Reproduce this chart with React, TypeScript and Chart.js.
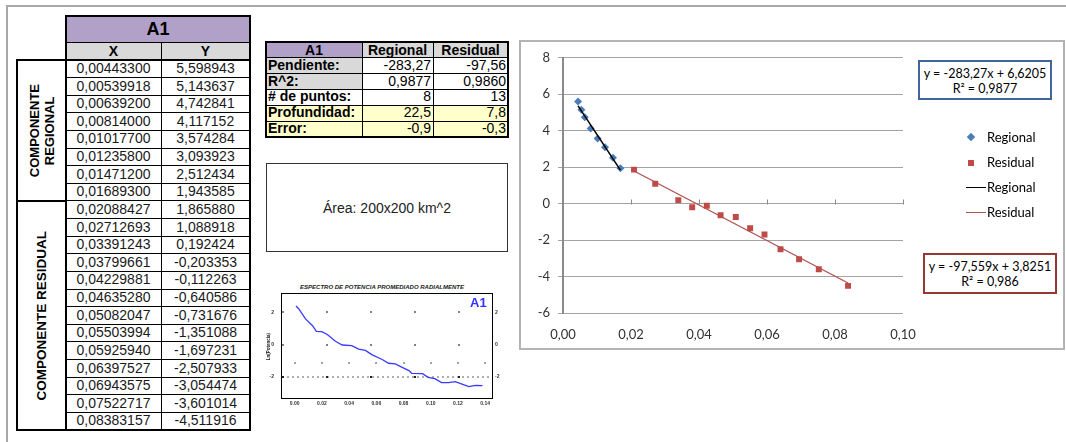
import React, { useEffect, useRef } from 'react';
import { Chart, registerables } from 'chart.js';
Chart.register(...registerables);

// ---- data ----
const regionalX = [0.004433, 0.00539918, 0.006392, 0.00814, 0.010177, 0.012358, 0.014712, 0.016893];
const regionalY = [5.598943, 5.143637, 4.742841, 4.117152, 3.574284, 3.093923, 2.512434, 1.943585];
const residualX = [0.02088427, 0.02712693, 0.03391243, 0.03799661, 0.04229881, 0.0463528, 0.05082047, 0.05503994, 0.0592594, 0.06397527, 0.06943575, 0.07522717, 0.08383157];
const residualY = [1.86588, 1.088918, 0.192424, -0.203353, -0.112263, -0.640586, -0.731676, -1.351088, -1.697231, -2.507933, -3.054474, -3.601014, -4.511916];

const regionalTrendX = [0.004433, 0.016893];
const regionalTrendY = [5.365, 1.835];
const residualTrendX = [0.020884, 0.083832];
const residualTrendY = [1.788, -4.353];

const xTicks = [0, 0.02, 0.04, 0.06, 0.08, 0.1];
const yTicks = [-6, -4, -2, 0, 2, 4, 6, 8];

const statLabels = ['Pendiente:', 'R^2:', '# de puntos:', 'Profundidad:', 'Error:'];
const regionalStats = ['-283,27', '0,9877', '8', '22,5', '-0,9'];
const residualStats = ['-97,56', '0,9860', '13', '7,8', '-0,3'];

const spectrumX = [0.001, 0.003, 0.008, 0.013, 0.016, 0.020, 0.024, 0.030, 0.035, 0.042, 0.047, 0.052, 0.057, 0.064, 0.069, 0.074, 0.079, 0.084, 0.086, 0.094, 0.098, 0.103, 0.108, 0.113, 0.118, 0.123, 0.128, 0.133, 0.138];
const spectrumY = [2.40, 2.23, 1.60, 1.19, 0.83, 0.81, 0.63, 0.21, -0.02, -0.06, -0.27, -0.35, -0.63, -0.90, -1.15, -1.19, -1.40, -1.60, -1.77, -1.79, -2.02, -2.10, -2.35, -2.35, -2.29, -2.44, -2.60, -2.52, -2.54];
const spectrumXTicks = [0, 0.02, 0.04, 0.06, 0.08, 0.1, 0.12, 0.14];
const spectrumYTicks = [-2, 0, 2];
const spectrumSparseDotRows = [2, 0];
const spectrumTickDotRow = -1.15;
const spectrumDenseDotRow = -2;

const fmtComma = (v: number, d: number) => v.toFixed(d).replace('.', ',');

const TF = '"Liberation Sans", Arial, sans-serif';
const CF = 'Lato, "Open Sans", sans-serif';

const PURPLE = '#b1a0c7';
const GRAY = '#d9d9d9';
const YELLOW = '#ffffcc';

function box(l: number, t: number, w: number, h: number, extra: any = {}): any {
  return { position: 'absolute', left: l, top: t, width: w, height: h, boxSizing: 'border-box', ...extra };
}

function Line({ x, y, w, h, c = '#000' }: any) {
  return <div style={box(x, y, w, h, { background: c })} />;
}

export default function App() {
  const mainRef = useRef<HTMLCanvasElement>(null);
  const smallRef = useRef<HTMLCanvasElement>(null);

  useEffect(() => {
    const zeroTicks = {
      id: 'zeroTicks',
      afterDraw(chart: any) {
        const { ctx, scales } = chart;
        const x = scales.x, y = scales.y;
        const y0 = Math.round(y.getPixelForValue(0)) + 0.5;
        ctx.save();
        ctx.strokeStyle = '#8a8a8a';
        ctx.lineWidth = 1;
        xTicks.forEach((v) => {
          if (v === 0) return;
          const px = Math.round(x.getPixelForValue(v)) + 0.5;
          ctx.beginPath();
          ctx.moveTo(px, y0);
          ctx.lineTo(px, y0 - 5);
          ctx.stroke();
        });
        ctx.restore();
      },
    };

    const main = new Chart(mainRef.current!, {
      type: 'scatter',
      data: {
        datasets: [
          {
            label: 'Regional',
            data: regionalX.map((x, i) => ({ x, y: regionalY[i] })),
            pointStyle: 'rectRot',
            pointRadius: 4,
            borderWidth: 0,
            backgroundColor: '#4a7ebb',
            borderColor: '#4a7ebb',
            order: 2,
          },
          {
            label: 'Residual',
            data: residualX.map((x, i) => ({ x, y: residualY[i] })),
            pointStyle: 'rect',
            pointRadius: 4.2,
            borderWidth: 0,
            backgroundColor: '#be4b48',
            borderColor: '#be4b48',
            order: 2,
          },
          {
            label: 'Regional',
            data: regionalTrendX.map((x, i) => ({ x, y: regionalTrendY[i] })),
            showLine: true,
            pointRadius: 0,
            borderColor: '#000000',
            borderWidth: 1.5,
            order: 1,
          },
          {
            label: 'Residual',
            data: residualTrendX.map((x, i) => ({ x, y: residualTrendY[i] })),
            showLine: true,
            pointRadius: 0,
            borderColor: '#b0504e',
            borderWidth: 1.3,
            order: 1,
          },
        ],
      },
      options: {
        animation: false,
        responsive: false,
        maintainAspectRatio: false,
        layout: { padding: { left: 0, right: 160, top: 15, bottom: 0 } },
        plugins: { legend: { display: false }, tooltip: { enabled: false } },
        scales: {
          x: {
            type: 'linear',
            min: 0,
            max: 0.1,
            afterBuildTicks: (s: any) => { s.ticks = xTicks.map((v) => ({ value: v })); },
            afterFit: (s: any) => { s.height = 35; },
            grid: { display: false, drawTicks: false },
            border: { display: false },
            ticks: {
              font: { family: CF, size: 13 },
              color: '#333',
              padding: 14,
              maxRotation: 0,
              autoSkip: false,
              callback: (v: any) => fmtComma(Number(v), 2),
            },
          },
          y: {
            min: -6,
            max: 8,
            afterBuildTicks: (s: any) => { s.ticks = yTicks.map((v) => ({ value: v })); },
            afterFit: (s: any) => { s.width = 42; },
            grid: { color: '#a3a3a3', lineWidth: 1, tickLength: 5, drawTicks: true },
            border: { display: true, color: '#8a8a8a', width: 2 },
            ticks: {
              font: { family: CF, size: 13 },
              color: '#333',
              padding: 8,
              callback: (v: any) => String(v),
            },
          },
        },
      },
      plugins: [zeroTicks],
    } as any);

    const frame = {
      id: 'frame',
      beforeDatasetsDraw(chart: any) {
        const { ctx, chartArea: a, scales } = chart;
        const x = scales.x, y = scales.y;
        ctx.save();
        ctx.fillStyle = '#222';
        const dot = (px: number, py: number, s: number) => ctx.fillRect(Math.round(px) - s / 2, Math.round(py) - s / 2, s, s);
        spectrumSparseDotRows.forEach((v) => {
          const py = y.getPixelForValue(v);
          for (let px = a.left + 2; px < a.right; px += 44) dot(px, py, 1.5);
        });
        const pyT = y.getPixelForValue(spectrumTickDotRow);
        spectrumXTicks.forEach((v) => dot(x.getPixelForValue(v), pyT, 1.3));
        const pyD = y.getPixelForValue(spectrumDenseDotRow);
        for (let px = a.left + 2; px < a.right; px += 5) dot(px, pyD, 1.2);
        for (let px = a.left + 2; px < a.right; px += 44) dot(px, pyD, 2);
        ctx.restore();
      },
      afterDraw(chart: any) {
        const { ctx, chartArea: a } = chart;
        ctx.save();
        ctx.strokeStyle = '#000';
        ctx.lineWidth = 1;
        ctx.strokeRect(Math.round(a.left) + 0.5, Math.round(a.top) + 0.5, Math.round(a.right - a.left), Math.round(a.bottom - a.top));
        ctx.restore();
      },
    };

    const tickFont = { family: TF, size: 5, weight: 'bold' };
    const small = new Chart(smallRef.current!, {
      type: 'scatter',
      data: {
        datasets: [
          {
            data: spectrumX.map((x, i) => ({ x, y: spectrumY[i] })),
            showLine: true,
            pointRadius: 0,
            borderColor: '#3a3aff',
            borderWidth: 1.3,
          },
        ],
      },
      options: {
        animation: false,
        responsive: false,
        maintainAspectRatio: false,
        layout: { padding: { top: 13, left: 0, right: 0, bottom: 0 } },
        plugins: { legend: { display: false }, tooltip: { enabled: false } },
        scales: {
          x: {
            type: 'linear',
            min: -0.01,
            max: 0.145,
            afterBuildTicks: (s: any) => { s.ticks = spectrumXTicks.map((v) => ({ value: v })); },
            afterFit: (s: any) => { s.height = 12; },
            grid: { display: false, drawTicks: false },
            border: { display: false },
            ticks: { font: tickFont, color: '#333', padding: 3, maxRotation: 0, autoSkip: false, callback: (v: any) => Number(v).toFixed(2) },
          },
          y: {
            position: 'left',
            min: -3.3,
            max: 3.2,
            afterBuildTicks: (s: any) => { s.ticks = spectrumYTicks.map((v) => ({ value: v })); },
            afterFit: (s: any) => { s.width = 19; },
            grid: { display: false, drawTicks: false },
            border: { display: false },
            ticks: { font: tickFont, color: '#333', padding: 7, callback: (v: any) => String(v) },
          },
          y2: {
            position: 'right',
            min: -3.3,
            max: 3.2,
            afterBuildTicks: (s: any) => { s.ticks = spectrumYTicks.map((v) => ({ value: v })); },
            afterFit: (s: any) => { s.width = 10; },
            grid: { display: false, drawTicks: false },
            border: { display: false },
            ticks: { font: tickFont, color: '#333', padding: 3, callback: (v: any) => String(v) },
          },
        },
      },
      plugins: [frame],
    } as any);

    return () => {
      main.destroy();
      small.destroy();
    };
  }, []);

  // ---- left table geometry ----
  const rowH = 17.62;
  const dataTop = 60;
  const allX = [...regionalX, ...residualX];
  const allY = [...regionalY, ...residualY];
  const nRows = allX.length;
  const tableBottom = dataTop + nRows * rowH;
  const groupSplit = dataTop + regionalX.length * rowH;

  // ---- mid table geometry ----
  const mRows = [42, 57.8, 73.6, 89.4, 105.2, 121, 136.8];
  const mCols = [266, 362, 433, 508];
  const labelBg = [GRAY, GRAY, '#ffffff', YELLOW, YELLOW];
  const valBg = ['#ffffff', '#ffffff', '#ffffff', YELLOW, YELLOW];

  const cellText = (extra: any = {}) => ({ fontFamily: TF, fontSize: 14, color: '#000', whiteSpace: 'nowrap', ...extra });

  return (
    <div style={{ position: 'absolute', left: 0, top: 0, width: 1066, height: 442, background: '#fff', overflow: 'hidden' }}>
      {/* outer frame */}
      <Line x={6} y={5} w={1060} h={2} c="#a8a8a8" />
      <Line x={6} y={5} w={2} h={437} c="#a8a8a8" />

      {/* ---------- left table ---------- */}
      <div style={box(66, 16, 184, 26, { background: PURPLE, ...cellText({ fontSize: 18, fontWeight: 'bold', textAlign: 'center', lineHeight: '27px' }) })}>A1</div>
      <div style={box(66, 42, 95, 18, { background: GRAY, ...cellText({ fontWeight: 'bold', textAlign: 'center', lineHeight: '18px' }) })}>X</div>
      <div style={box(161, 42, 89, 18, { background: GRAY, ...cellText({ fontWeight: 'bold', textAlign: 'center', lineHeight: '18px' }) })}>Y</div>
      {allX.map((x, i) => (
        <React.Fragment key={i}>
          <div style={box(66, dataTop + i * rowH, 95, rowH, cellText({ textAlign: 'center', lineHeight: rowH + 'px', color: '#1a1a1a' }))}>{fmtComma(x, 8)}</div>
          <div style={box(161, dataTop + i * rowH, 89, rowH, cellText({ textAlign: 'center', lineHeight: rowH + 'px', color: '#1a1a1a' }))}>{fmtComma(allY[i], 6)}</div>
          {i > 0 && <Line x={66} y={dataTop + i * rowH - 0.5} w={184} h={1} />}
        </React.Fragment>
      ))}
      <Line x={66} y={41.5} w={184} h={1} />
      <Line x={17} y={59} w={233} h={2} />
      <Line x={160.5} y={42} w={1} h={tableBottom - 42} />
      <Line x={65} y={15} w={2} h={tableBottom - 15 + 1} />
      <Line x={249} y={15} w={2} h={tableBottom - 15 + 1} />
      <Line x={65} y={15} w={186} h={2} />
      <Line x={16} y={tableBottom - 1} w={235} h={2} />
      <Line x={16} y={59} w={2} h={tableBottom - 59 + 1} />
      <Line x={16} y={groupSplit - 1} w={50} h={2} />
      {/* vertical labels */}
      <div style={box(17, 60, 49, groupSplit - 60, { display: 'flex', alignItems: 'center', justifyContent: 'center' })}>
        <div style={{ writingMode: 'vertical-rl', transform: 'rotate(180deg)', textAlign: 'center', fontFamily: TF, fontWeight: 'bold', fontSize: 13, lineHeight: '15px', color: '#000' }}>
          COMPONENTE<br />REGIONAL
        </div>
      </div>
      <div style={box(17, groupSplit, 49, tableBottom - groupSplit, { display: 'flex', alignItems: 'center', justifyContent: 'center' })}>
        <div style={{ writingMode: 'vertical-rl', transform: 'rotate(180deg)', textAlign: 'center', fontFamily: TF, fontWeight: 'bold', fontSize: 13.5, lineHeight: '15px', color: '#000' }}>
          COMPONENTE RESIDUAL
        </div>
      </div>

      {/* ---------- middle stats table ---------- */}
      <div style={box(mCols[0], mRows[0], mCols[1] - mCols[0], mRows[1] - mRows[0], { background: PURPLE, ...cellText({ fontWeight: 'bold', textAlign: 'center', lineHeight: '16px' }) })}>A1</div>
      <div style={box(mCols[1], mRows[0], mCols[2] - mCols[1], mRows[1] - mRows[0], { background: GRAY, ...cellText({ fontWeight: 'bold', textAlign: 'center', lineHeight: '16px' }) })}>Regional</div>
      <div style={box(mCols[2], mRows[0], mCols[3] - mCols[2], mRows[1] - mRows[0], { background: GRAY, ...cellText({ fontWeight: 'bold', textAlign: 'center', lineHeight: '16px' }) })}>Residual</div>
      {statLabels.map((lab, i) => {
        const t = mRows[i + 1];
        const h = mRows[i + 2] - t;
        return (
          <React.Fragment key={lab}>
            <div style={box(mCols[0], t, mCols[1] - mCols[0], h, { background: labelBg[i], ...cellText({ fontWeight: 'bold', paddingLeft: 2, lineHeight: h + 'px' }) })}>{lab}</div>
            <div style={box(mCols[1], t, mCols[2] - mCols[1], h, { background: valBg[i], ...cellText({ textAlign: 'right', paddingRight: 2, lineHeight: h + 'px' }) })}>{regionalStats[i]}</div>
            <div style={box(mCols[2], t, mCols[3] - mCols[2], h, { background: valBg[i], ...cellText({ textAlign: 'right', paddingRight: 2, lineHeight: h + 'px' }) })}>{residualStats[i]}</div>
          </React.Fragment>
        );
      })}
      {mRows.map((y, i) => (
        <Line key={'mr' + i} x={mCols[0] - 1} y={y - (i === 0 || i === mRows.length - 1 ? 1 : 0.5)} w={mCols[3] - mCols[0] + 2} h={i === 0 || i === mRows.length - 1 ? 2 : 1} />
      ))}
      {mCols.map((x, i) => (
        <Line key={'mc' + i} x={x - (i === 0 || i === mCols.length - 1 ? 1 : 0.5)} y={mRows[0] - 1} w={i === 0 || i === mCols.length - 1 ? 2 : 1} h={mRows[mRows.length - 1] - mRows[0] + 2} />
      ))}

      {/* ---------- text box ---------- */}
      <div style={box(266, 163, 242, 89, { border: '1.5px solid #333', display: 'flex', alignItems: 'center', justifyContent: 'center', ...cellText({ color: '#222' }) })}>
        Área: 200x200 km^2
      </div>

      {/* ---------- small spectrum chart ---------- */}
      <div style={box(262, 283, 240, 8, { textAlign: 'center', fontFamily: TF, fontSize: 6, fontWeight: 'bold', fontStyle: 'italic', color: '#222', lineHeight: '8px' })}>
        ESPECTRO DE POTENCIA PROMEDIADO RADIALMENTE
      </div>
      <canvas ref={smallRef} width={240} height={130} style={{ position: 'absolute', left: 262, top: 280, width: 240, height: 130 }} />
      <div style={box(470, 296, 22, 14, { fontFamily: TF, fontSize: 13, fontWeight: 'bold', color: '#3333ff', lineHeight: '14px' })}>A1</div>
      <div style={box(264, 330, 8, 34, { display: 'flex', alignItems: 'center', justifyContent: 'center' })}>
        <div style={{ writingMode: 'vertical-rl', transform: 'rotate(180deg)', fontFamily: TF, fontSize: 4.5, fontWeight: 'bold', color: '#222', whiteSpace: 'nowrap' }}>Ln(Potencia)</div>
      </div>

      {/* ---------- main chart ---------- */}
      <canvas ref={mainRef} width={542} height={306} style={{ position: 'absolute', left: 521, top: 42, width: 542, height: 306 }} />
      <div style={box(519, 40, 546, 310, { border: '2px solid #b4b4b4' })} />

      {/* equation boxes */}
      <div style={box(918, 60, 134, 40, { border: '2px solid #41669d', background: '#fff', textAlign: 'center', fontFamily: CF, fontSize: 12.5, color: '#000', lineHeight: '15px', paddingTop: 4 })}>
        y = -283,27x + 6,6205<br />R² = 0,9877
      </div>
      <div style={box(923, 253, 134, 41, { border: '2px solid #953735', background: '#fff', textAlign: 'center', fontFamily: CF, fontSize: 12.5, color: '#000', lineHeight: '15px', paddingTop: 4 })}>
        y = -97,559x + 3,8251<br />R² = 0,986
      </div>

      {/* legend */}
      <div style={box(968, 134, 6, 6, { background: '#4a7ebb', transform: 'rotate(45deg)' })} />
      <div style={box(987, 129, 70, 17, { fontFamily: CF, fontSize: 13, color: '#000', lineHeight: '17px' })}>Regional</div>
      <div style={box(968, 160, 6, 6, { background: '#be4b48' })} />
      <div style={box(987, 154, 70, 17, { fontFamily: CF, fontSize: 13, color: '#000', lineHeight: '17px' })}>Residual</div>
      <Line x={966} y={186.5} w={20} h={1.5} c="#000" />
      <div style={box(987, 179, 70, 17, { fontFamily: CF, fontSize: 13, color: '#000', lineHeight: '17px' })}>Regional</div>
      <Line x={966} y={211.5} w={20} h={1.2} c="#b0504e" />
      <div style={box(987, 204, 70, 17, { fontFamily: CF, fontSize: 13, color: '#000', lineHeight: '17px' })}>Residual</div>
    </div>
  );
}
